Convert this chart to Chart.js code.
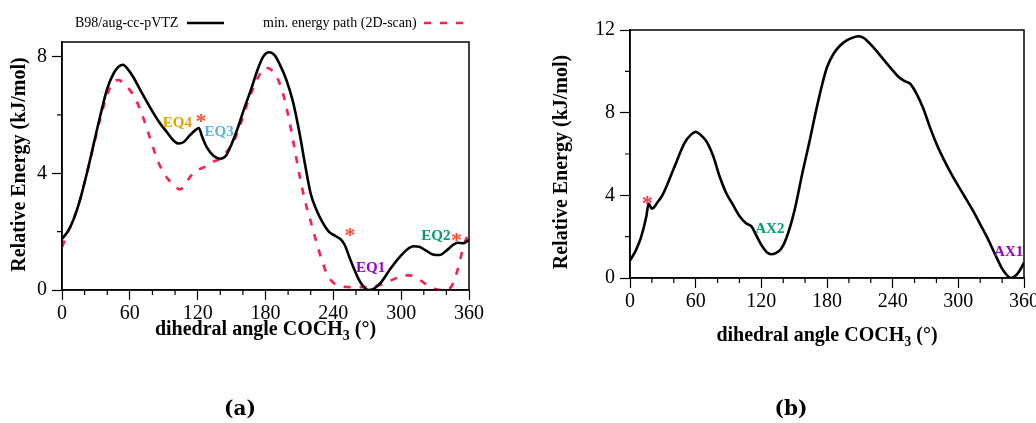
<!DOCTYPE html>
<html>
<head>
<meta charset="utf-8">
<script src="https://cdn.jsdelivr.net/npm/chart.js@4"></script>
<style>
html, body { margin: 0; padding: 0; background: #fff; overflow: hidden; width: 1036px; height: 423px; }
canvas { position: absolute; top: 0; }
#chartA { left: 0; }
#chartB { left: 520px; }
.cap { position: absolute; top: 397px; font: bold 20px "DejaVu Serif", serif; line-height: 22px; transform: translateX(-50%); }
</style>
</head>
<body>
<canvas id="chartA" width="520" height="423"></canvas>
<canvas id="chartB" width="516" height="423"></canvas>
<div class="cap" style="left:240px">(a)</div>
<div class="cap" style="left:791px">(b)</div>
<script>
// (a) B98/aug-cc-pVTZ scan
const angleA = [0, 5, 10, 16, 22, 28, 34, 40, 46, 50, 54, 58, 63, 70, 78, 86, 93, 98, 103, 108, 113, 118, 121, 124, 128, 134, 140, 145, 150, 155, 161, 167, 173, 178, 183, 188, 193, 198, 204, 210, 215, 220, 225, 230, 236, 242, 247, 250, 254, 258, 262, 266, 271, 276, 282, 290, 298, 305, 311, 316, 322, 328, 334, 340, 346, 350, 355, 360];
const b98A   = [1.75, 2.0, 2.4, 3.1, 4.0, 5.0, 6.0, 6.9, 7.45, 7.65, 7.72, 7.58, 7.3, 6.8, 6.25, 5.75, 5.4, 5.15, 5.02, 5.08, 5.3, 5.48, 5.55, 5.25, 4.9, 4.6, 4.5, 4.6, 5.0, 5.5, 6.2, 6.85, 7.55, 8.0, 8.15, 8.05, 7.7, 7.25, 6.5, 5.4, 4.3, 3.3, 2.75, 2.35, 2.0, 1.85, 1.72, 1.55, 1.15, 0.75, 0.4, 0.15, 0.0, 0.05, 0.25, 0.7, 1.1, 1.38, 1.5, 1.48, 1.35, 1.22, 1.2, 1.35, 1.55, 1.62, 1.6, 1.72];

// (a) min. energy path from the 2D scan
const angleScanA = [0, 5, 10, 16, 22, 28, 34, 40, 45, 50, 55, 60, 65, 70, 75, 80, 85, 90, 96, 100, 104, 108, 112, 117, 122, 128, 134, 140, 146, 152, 158, 164, 170, 175, 180, 185, 190, 195, 200, 205, 210, 215, 220, 225, 230, 235, 240, 245, 255, 265, 275, 285, 295, 302, 308, 314, 320, 326, 332, 340, 344, 348, 352, 355, 358, 360];
const scanA      = [1.47, 1.95, 2.4, 3.1, 4.0, 4.95, 5.9, 6.7, 7.1, 7.2, 7.05, 6.85, 6.55, 6.1, 5.55, 4.95, 4.4, 4.0, 3.7, 3.55, 3.45, 3.55, 3.8, 4.05, 4.15, 4.25, 4.4, 4.5, 4.75, 5.1, 5.7, 6.4, 7.0, 7.4, 7.62, 7.55, 7.3, 6.8, 6.0, 5.0, 3.95, 3.05, 2.35, 1.65, 1.0, 0.5, 0.25, 0.15, 0.1, 0.1, 0.12, 0.22, 0.4, 0.5, 0.5, 0.4, 0.25, 0.08, 0.02, 0.0, 0.1, 0.45, 1.0, 1.5, 1.8, 1.95];

// (b) scan
const angleB = [0, 5, 10, 15, 17, 20, 25, 30, 40, 50, 56, 60, 64, 70, 76, 82, 88, 94, 100, 106, 111, 115, 120, 125, 129, 133, 138, 143, 150, 158, 164, 170, 176, 180, 186, 192, 198, 204, 209, 214, 219, 225, 232, 240, 246, 252, 256, 262, 268, 274, 280, 287, 295, 304, 314, 320, 326, 334, 340, 345, 348, 352, 356, 360];
const b98B   = [0.85, 1.3, 1.95, 3.0, 3.6, 3.35, 3.65, 4.05, 5.3, 6.55, 6.95, 7.07, 6.95, 6.6, 5.9, 4.9, 4.1, 3.55, 3.0, 2.65, 2.5, 2.1, 1.6, 1.25, 1.15, 1.2, 1.4, 1.95, 3.2, 5.2, 6.6, 8.1, 9.45, 10.2, 10.85, 11.25, 11.5, 11.64, 11.7, 11.6, 11.35, 11.0, 10.55, 10.05, 9.7, 9.5, 9.4, 8.9, 8.2, 7.3, 6.5, 5.7, 4.9, 4.1, 3.2, 2.6, 2.0, 1.1, 0.45, 0.1, 0.0, 0.1, 0.35, 0.75];

const xTicks = [0, 60, 120, 180, 240, 300, 360];
const xMinor = [20, 40, 80, 100, 140, 160, 200, 220, 260, 280, 320, 340];
const yTicksA = [0, 4, 8];
const yMinorA = [2, 6];
const yTicksB = [0, 4, 8, 12];
const yMinorB = [2, 6, 10];

const notesA = [
  { text: 'EQ4', x: 102, y: 5.72, color: '#e69f00' },
  { text: '*',   x: 123, y: 5.95, color: '#ff4d2e' },
  { text: 'EQ3', x: 139, y: 5.42, color: '#56b4e9' },
  { text: '*',   x: 254.7, y: 2.07, color: '#ff4d2e' },
  { text: 'EQ1', x: 273, y: 0.74, color: '#9400d3' },
  { text: 'EQ2', x: 330.7, y: 1.85, color: '#009e73' },
  { text: '*',   x: 349, y: 1.87, color: '#ff4d2e' }
];
const notesB = [
  { text: '*',   x: 15.8, y: 3.85, color: '#ff2d55' },
  { text: 'AX2', x: 127.8, y: 2.38, color: '#009e73' },
  { text: 'AX1', x: 346, y: 1.27, color: '#9400d3' }
];

const serif = '"Liberation Serif", "Times New Roman", serif';
const pts = (xs, ys) => xs.map((x, i) => ({ x: x, y: ys[i] }));

// frame, minor ticks, titles, labels and legend
const deco = {
  id: 'deco',
  afterDraw(chart, args, o) {
    const { ctx, chartArea: a, scales: { x, y } } = chart;
    ctx.save();
    ctx.strokeStyle = '#000';
    ctx.lineWidth = 1.5;
    ctx.strokeRect(a.left, a.top, a.right - a.left, a.bottom - a.top);
    ctx.lineWidth = 1.2;
    ctx.beginPath();
    o.xMinor.forEach(v => { const p = x.getPixelForValue(v); ctx.moveTo(p, a.bottom); ctx.lineTo(p, a.bottom + 5); });
    o.yMinor.forEach(v => { const p = y.getPixelForValue(v); ctx.moveTo(a.left, p); ctx.lineTo(a.left - 5, p); });
    ctx.stroke();

    // x title with subscript
    ctx.fillStyle = '#000';
    ctx.textBaseline = 'alphabetic';
    ctx.textAlign = 'left';
    const big = 'bold 20px ' + serif, small = 'bold 14px ' + serif;
    const p1 = 'dihedral angle COCH', p2 = '3', p3 = ' (°)';
    ctx.font = big; const w1 = ctx.measureText(p1).width, w3 = ctx.measureText(p3).width;
    ctx.font = small; const w2 = ctx.measureText(p2).width;
    let tx = (a.left + a.right) / 2 - (w1 + w2 + w3) / 2;
    const by = o.xTitleY;
    ctx.font = big; ctx.fillText(p1, tx, by); tx += w1;
    ctx.font = small; ctx.fillText(p2, tx, by + 5); tx += w2;
    ctx.font = big; ctx.fillText(p3, tx, by);

    // y title
    ctx.save();
    ctx.translate(o.yTitleX, o.yTitleY);
    ctx.rotate(-Math.PI / 2);
    ctx.textAlign = 'center';
    ctx.textBaseline = 'middle';
    ctx.font = big;
    ctx.fillText('Relative Energy (kJ/mol)', 0, 0);
    ctx.restore();

    // state labels
    ctx.textAlign = 'center';
    o.notes.forEach(n => {
      ctx.fillStyle = n.color;
      const px = x.getPixelForValue(n.x), py = y.getPixelForValue(n.y);
      if (n.text === '*') {
        ctx.font = 'bold 22px ' + serif;
        ctx.textBaseline = 'alphabetic';
        ctx.fillText('*', px, py + 12);
      } else {
        ctx.font = 'bold 15px ' + serif;
        ctx.textBaseline = 'middle';
        ctx.fillText(n.text, px, py);
      }
    });

    // legend
    if (o.legend) {
      ctx.textAlign = 'left';
      ctx.textBaseline = 'middle';
      ctx.font = '14px ' + serif;
      chart.data.datasets.forEach((d, i) => {
        const L = o.legend[i];
        ctx.fillStyle = '#000';
        ctx.fillText(d.label, L.tx, L.y);
        ctx.strokeStyle = d.borderColor;
        ctx.lineWidth = d.borderWidth;
        ctx.setLineDash(d.borderDash || []);
        ctx.beginPath();
        ctx.moveTo(L.s0, L.y); ctx.lineTo(L.s1, L.y);
        ctx.stroke();
        ctx.setLineDash([]);
      });
    }
    ctx.restore();
  }
};

function makeChart(id, datasets, c) {
  return new Chart(document.getElementById(id), {
    type: 'line',
    data: { datasets: datasets },
    options: {
      responsive: false,
      animation: false,
      layout: { padding: c.pad },
      elements: { point: { radius: 0 }, line: { cubicInterpolationMode: 'monotone' } },
      plugins: { legend: { display: false }, tooltip: { enabled: false }, deco: c.deco },
      scales: {
        x: {
          type: 'linear', min: 0, max: 360,
          afterBuildTicks: s => { s.ticks = xTicks.map(v => ({ value: v })); },
          afterFit: s => { s.height = c.xh; s.paddingLeft = 0; s.paddingRight = 0; },
          grid: { drawOnChartArea: false, tickLength: 10, tickWidth: 1.2, tickColor: '#000' },
          border: { color: '#000', width: 1.5 },
          ticks: { color: '#000', padding: 2, autoSkip: false, maxRotation: 0, font: { family: serif, size: 20 } }
        },
        y: {
          type: 'linear', min: 0, max: c.ymax,
          afterBuildTicks: s => { s.ticks = c.yTicks.map(v => ({ value: v })); },
          afterFit: s => { s.width = c.yw; s.paddingTop = 0; s.paddingBottom = 0; },
          grid: { drawOnChartArea: false, tickLength: 10, tickWidth: 1.2, tickColor: '#000' },
          border: { color: '#000', width: 1.5 },
          ticks: { color: '#000', padding: 5, font: { family: serif, size: 20 } }
        }
      }
    },
    plugins: [deco]
  });
}

makeChart('chartA', [
  { label: 'B98/aug-cc-pVTZ', data: pts(angleA, b98A), borderColor: '#000', borderWidth: 2.6 },
  { label: 'min. energy path (2D-scan)', data: pts(angleScanA, scanA), borderColor: '#ff1f4f', borderWidth: 2.6, borderDash: [7, 9] }
], {
  pad: { left: 0, top: 42, right: 51, bottom: 0 },
  xh: 133, yw: 62, ymax: 8.5, yTicks: yTicksA,
  deco: {
    xMinor: xMinor, yMinor: yMinorA, xTitleY: 335, yTitleX: 19.5, yTitleY: 164.5, notes: notesA,
    legend: [{ tx: 75, s0: 187, s1: 224, y: 23 }, { tx: 263, s0: 424, s1: 463, y: 23 }]
  }
});

makeChart('chartB', [
  { label: 'B98/aug-cc-pVTZ', data: pts(angleB, b98B), borderColor: '#000', borderWidth: 2.6 }
], {
  pad: { left: 0, top: 30, right: 12, bottom: 0 },
  xh: 145, yw: 110, ymax: 12, yTicks: yTicksB,
  deco: { xMinor: xMinor, yMinor: yMinorB, xTitleY: 341, yTitleX: 42, yTitleY: 162, notes: notesB, legend: null }
});
</script>
</body>
</html>
